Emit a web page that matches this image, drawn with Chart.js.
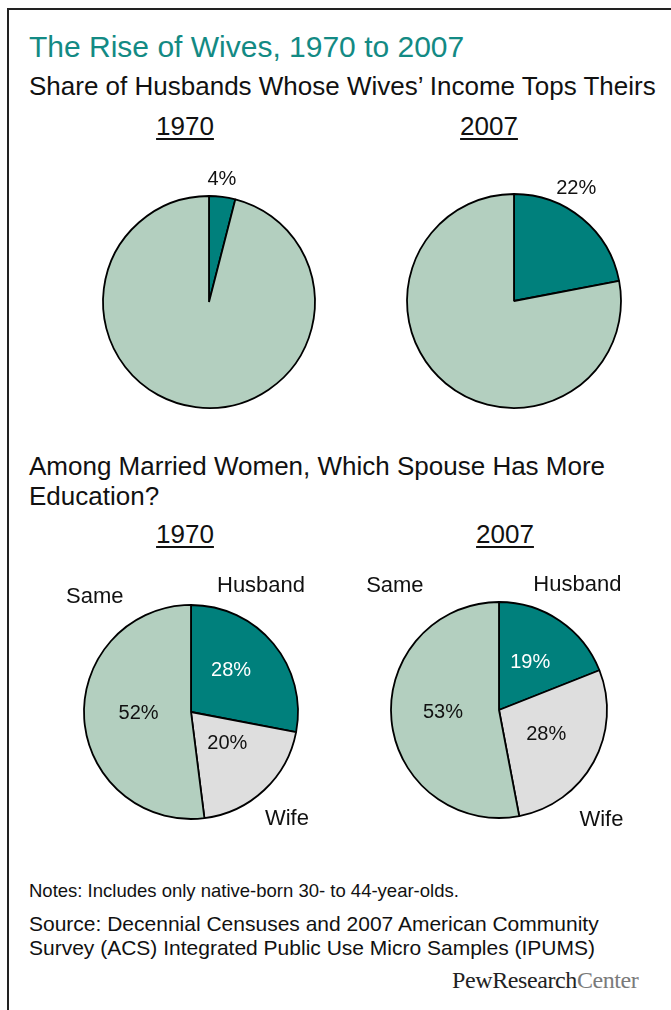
<!DOCTYPE html>
<html>
<head>
<meta charset="utf-8">
<script src="https://cdn.jsdelivr.net/npm/chart.js@4.4.1/dist/chart.umd.min.js"></script>
<style>
    body { margin: 0; background: #fff; width: 671px; height: 1010px; overflow: hidden; position: relative;
           font-family: "Liberation Sans", Arial, sans-serif; color: #111; }
    .frame { position: absolute; left: 7px; top: 8px; width: 700px; height: 1100px;
             border-top: 2px solid #222; border-left: 2px solid #222; }
    .txt { position: absolute; white-space: nowrap; line-height: 1; }
    .title { left: 29px; top: 32px; font-size: 30px; color: #138a84; }
    .sub { left: 29px; font-size: 26px; }
    .year { font-size: 26px; text-decoration: underline; text-decoration-thickness: 2px; text-underline-offset: 3px;
            transform: translateX(-50%); }
    .note { left: 29px; font-size: 18.5px; }
    .pie { position: absolute; width: 300px; height: 300px; }
    .pew { position: absolute; left: 452px; top: 968px; font-family: "Liberation Serif", serif; font-size: 24px;
           letter-spacing: -0.4px; line-height: 1; }
</style>
</head>
<body>
<div class="frame"></div>

<div class="txt title">The Rise of Wives, 1970 to 2007</div>
<div class="txt sub" style="top:73px">Share of Husbands Whose Wives’ Income Tops Theirs</div>
<div class="txt year" style="left:185px; top:113px">1970</div>
<div class="txt year" style="left:489px; top:113px">2007</div>

<div class="txt sub" style="top:451px; line-height:30px">Among Married Women, Which Spouse Has More<br>Education?</div>
<div class="txt year" style="left:185px; top:521px">1970</div>
<div class="txt year" style="left:505px; top:521px">2007</div>

<div class="txt note" style="top:882px">Notes: Includes only native-born 30- to 44-year-olds.</div>
<div class="txt note" style="top:912px; font-size:21px; line-height:24px">Source: Decennial Censuses and 2007 American Community<br>Survey (ACS) Integrated Public Use Micro Samples (IPUMS)</div>
<div class="pew"><span style="color:#222">PewResearch</span><span style="color:#7a7a7a">Center</span></div>

<canvas id="incomeA" class="pie" width="300" height="300" style="left:59px; top:152px"></canvas>
<canvas id="incomeB" class="pie" width="300" height="300" style="left:364px; top:151px"></canvas>
<canvas id="eduA" class="pie" width="300" height="300" style="left:41px; top:562px"></canvas>
<canvas id="eduB" class="pie" width="300" height="300" style="left:349px; top:560px"></canvas>

<script>
// Dados
const incomeLabels = ['Wife earns more', 'Husband earns more or same'];
const income1970 = [4, 96];
const income2007 = [22, 78];

const eduLabels = ['Husband', 'Wife', 'Same'];
const edu1970 = [28, 20, 52];
const edu2007 = [19, 28, 53];

// Cores
const TEAL = '#00807c';
const GREEN = '#b3cfbf';
const GRAY = '#dedede';

// Plugin for the text around and inside the slices
const pieLabels = {
    id: 'pieLabels',
    afterDatasetsDraw(chart, args, opts) {
        const ctx = chart.ctx;
        const meta = chart.getDatasetMeta(0);
        const values = chart.data.datasets[0].data;
        ctx.save();
        ctx.textAlign = 'center';
        ctx.textBaseline = 'middle';
        meta.data.forEach((arc, i) => {
            const p = arc.getProps(['x', 'y', 'startAngle', 'endAngle', 'outerRadius'], true);
            (opts.items[i] || []).forEach(item => {
                const ang = item.angle !== undefined
                    ? item.angle * Math.PI / 180 - Math.PI / 2
                    : (p.startAngle + p.endAngle) / 2;
                const r = p.outerRadius * item.r;
                const text = item.what === 'value' ? values[i] + '%' : chart.data.labels[i];
                ctx.font = (item.what === 'value' ? '20px' : '22px') + ' "Liberation Sans", Arial, sans-serif';
                ctx.fillStyle = item.color || '#111';
                ctx.fillText(text, p.x + Math.cos(ang) * r, p.y + Math.sin(ang) * r);
            });
        });
        ctx.restore();
    }
};

function criarPizza(id, labels, data, colors, radius, items) {
    new Chart(document.getElementById(id), {
        type: 'pie',
        data: {
            labels: labels,
            datasets: [{
                data: data,
                backgroundColor: colors,
                borderColor: '#000',
                borderWidth: 1.8
            }]
        },
        options: {
            responsive: false,
            animation: false,
            radius: radius,
            layout: { padding: 0 },
            plugins: {
                legend: { display: false },
                tooltip: { enabled: false },
                pieLabels: { items: items }
            }
        },
        plugins: [pieLabels]
    });
}

criarPizza('incomeA', incomeLabels, income1970, [TEAL, GREEN], 106, [
    [{ what: 'value', angle: 6, r: 1.16 }]
]);
criarPizza('incomeB', incomeLabels, income2007, [TEAL, GREEN], 107, [
    [{ what: 'value', angle: 29, r: 1.2 }]
]);
criarPizza('eduA', eduLabels, edu1970, [TEAL, GRAY, GREEN], 107, [
    [{ what: 'value', angle: 44, r: 0.54, color: '#fff' }, { what: 'label', angle: 29, r: 1.35 }],
    [{ what: 'value', angle: 131, r: 0.45 }, { what: 'label', angle: 138, r: 1.34 }],
    [{ what: 'value', angle: 268, r: 0.49 }, { what: 'label', angle: 320, r: 1.4 }]
]);
criarPizza('eduB', eduLabels, edu2007, [TEAL, GRAY, GREEN], 108, [
    [{ what: 'value', angle: 33, r: 0.53, color: '#fff' }, { what: 'label', angle: 32, r: 1.37 }],
    [{ what: 'value', angle: 117, r: 0.49 }, { what: 'label', angle: 137, r: 1.39 }],
    [{ what: 'value', angle: 267, r: 0.52 }, { what: 'label', angle: 320, r: 1.5 }]
]);
</script>
</body>
</html>
